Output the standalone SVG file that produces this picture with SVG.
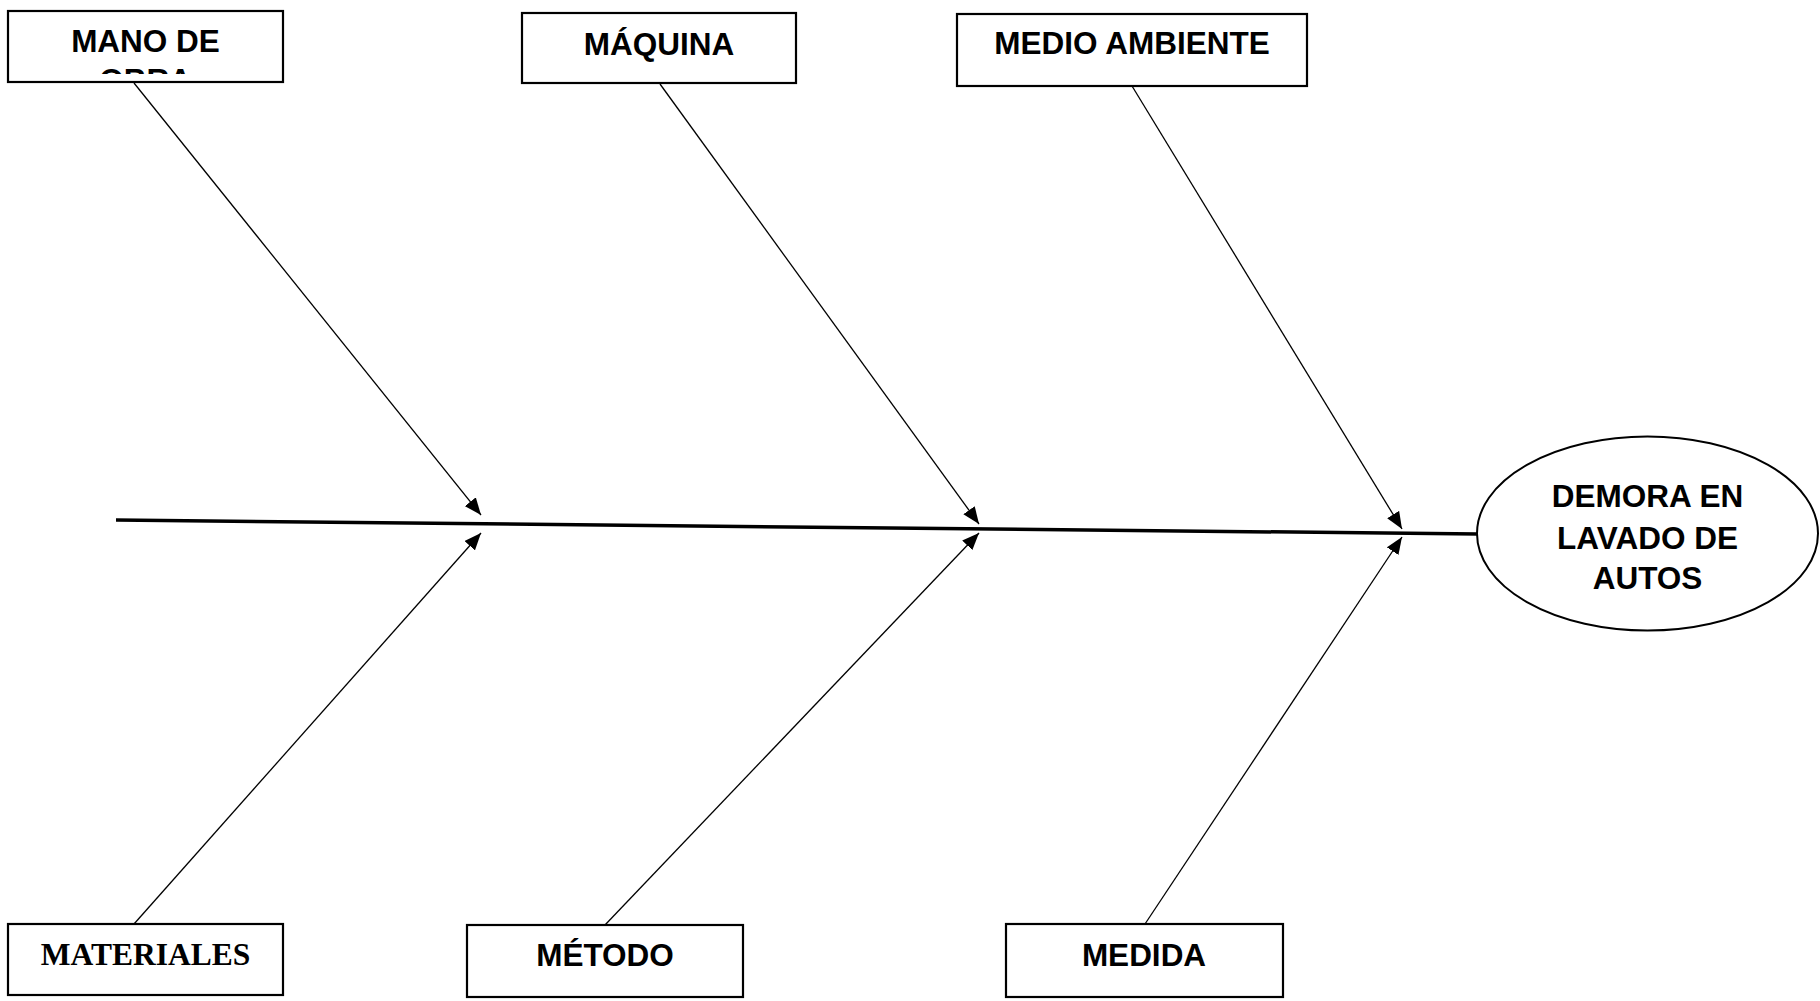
<svg xmlns="http://www.w3.org/2000/svg" width="1820" height="1001" viewBox="0 0 1820 1001">
<style>
.box{fill:#fff;stroke:#000;stroke-width:2.2}
.lbl{font-family:"Liberation Sans",Arial,sans-serif;font-weight:bold;font-size:31.5px;fill:#000;text-anchor:middle}
.ser{font-family:"Liberation Serif","Times New Roman",serif;font-weight:bold;font-size:31.5px;fill:#000;text-anchor:middle}
.br{stroke:#000;stroke-width:1.3;fill:none;marker-end:url(#ah)}
</style>
<defs>
<marker id="ah" markerUnits="userSpaceOnUse" markerWidth="18" markerHeight="14" refX="17" refY="7" orient="auto">
<path d="M0,0 L17,7 L0,14 Z" fill="#000"/>
</marker>
<clipPath id="cm"><rect x="8" y="11" width="275" height="63"/></clipPath>
</defs>
<rect width="1820" height="1001" fill="#fff"/>
<g id="connectors">
<line x1="116" y1="520" x2="1478" y2="534" stroke="#000" stroke-width="3.5"/>
<line class="br" x1="134" y1="83" x2="481" y2="515"/>
<line class="br" x1="660" y1="84" x2="979" y2="524"/>
<line class="br" x1="1132" y1="86" x2="1402" y2="529"/>
<line class="br" x1="134" y1="924" x2="481" y2="533"/>
<line class="br" x1="605" y1="925" x2="979" y2="533"/>
<line class="br" x1="1145" y1="924" x2="1402" y2="537"/>
</g>
<g id="mano">
<rect class="box" x="8" y="11" width="275" height="71"/>
<text class="lbl" x="145.5" y="52">MANO DE</text>
<text class="lbl" x="145.5" y="91" clip-path="url(#cm)">OBRA</text>
</g>
<g id="maquina">
<rect class="box" x="522" y="13" width="274" height="70"/>
<text class="lbl" x="659" y="55">MÁQUINA</text>
</g>
<g id="medio">
<rect class="box" x="957" y="14" width="350" height="72"/>
<text class="lbl" x="1132" y="54">MEDIO AMBIENTE</text>
</g>
<g id="materiales">
<rect class="box" x="8" y="924" width="275" height="71"/>
<text class="ser" x="145.5" y="965">MATERIALES</text>
</g>
<g id="metodo">
<rect class="box" x="467" y="925" width="276" height="72"/>
<text class="lbl" x="605" y="966">MÉTODO</text>
</g>
<g id="medida">
<rect class="box" x="1006" y="924" width="277" height="73"/>
<text class="lbl" x="1144" y="966">MEDIDA</text>
</g>
<g id="efecto">
<ellipse cx="1647.5" cy="533.5" rx="170.5" ry="97" fill="#fff" stroke="#000" stroke-width="2"/>
<text class="lbl" x="1647.5" y="507">DEMORA EN</text>
<text class="lbl" x="1647.5" y="549">LAVADO DE</text>
<text class="lbl" x="1647.5" y="589">AUTOS</text>
</g>
</svg>
